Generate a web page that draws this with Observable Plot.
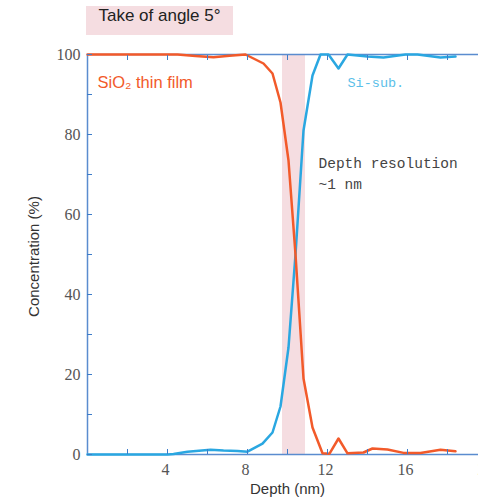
<!DOCTYPE html>
<html><head><meta charset="utf-8">
<script src="https://cdn.jsdelivr.net/npm/d3@7"></script>
<script src="https://cdn.jsdelivr.net/npm/@observablehq/plot@0.6"></script>
<style>
body{margin:0;width:478px;height:500px;overflow:hidden;background:#fff;}
#title{height:40px;position:relative;}
#title span{position:absolute;left:86px;top:6px;width:147px;height:29px;line-height:29px;background:#f5dde1;color:#222;font:17px "Liberation Sans",Arial,sans-serif;text-align:center;}
#chart{width:490px;}
#chart svg{display:block;max-width:none !important;width:490px;height:460px;}
</style></head>
<body>
<div id="title"><span>Take of angle 5°</span></div>
<div id="chart"></div>
<script>
const sio2Depth = [0, 1, 2, 3, 4, 4.5, 5.4, 6.3, 7.1, 7.9, 8.8, 9.25, 9.65, 10.05, 10.4, 10.8, 11.25, 11.75, 12.1, 12.55, 13, 13.8, 14.25, 15, 15.8, 16.65, 17.65, 18.4];
const sio2Conc  = [100, 100, 100, 100, 100, 100, 99.6, 99.3, 99.7, 100, 97.75, 95.25, 88, 73.5, 50, 19, 6.75, 0.3, 0.2, 4, 0.3, 0.5, 1.5, 1.25, 0.4, 0.4, 1.2, 0.8];
const siDepth = [0, 1, 2, 3, 4, 4.3, 5, 6.15, 6.8, 7.5, 8, 8.75, 9.25, 9.65, 10.05, 10.4, 10.8, 11.25, 11.65, 12.05, 12.55, 13, 14, 14.8, 15.9, 16.5, 17.65, 18.4];
const siConc  = [0, 0, 0, 0, 0, 0.1, 0.7, 1.2, 1, 0.9, 0.7, 2.7, 5.5, 12, 26.75, 50, 81, 94.75, 100, 100, 96.5, 100, 99.5, 99.25, 100, 100, 99.25, 99.5];
const bandStart = [9.75];
const bandEnd = [10.9];
const xTickMinor = [2, 4, 6, 8, 10, 12, 14, 16, 18, 20];
const xTickLabels = [4, 8, 12, 16, 20];
const yTickMinor = [0, 10, 20, 30, 40, 50, 60, 70, 80, 90, 100];
const yTickLabels = [0, 20, 40, 60, 80, 100];

const sio2 = sio2Depth.map((d, i) => ({depth: d, conc: sio2Conc[i]}));
const si = siDepth.map((d, i) => ({depth: d, conc: siConc[i]}));
const band = bandStart.map((s, i) => ({x1: s, x2: bandEnd[i]}));

const axisBlue = "#3d7cc9";
const tickFont = '"Liberation Serif","Times New Roman",serif';
const sans = '"Liberation Sans",Arial,sans-serif';
const mono = '"Liberation Mono","DejaVu Sans Mono",monospace';

const chart = Plot.plot({
  width: 490, height: 460,
  marginLeft: 87, marginRight: 3, marginTop: 14, marginBottom: 46,
  x: {domain: [0, 20]},
  y: {domain: [0, 100]},
  style: {fontFamily: tickFont, fontSize: "16px", color: "#555", background: "transparent", maxWidth: "none"},
  marks: [
    Plot.rect(band, {x1: "x1", x2: "x2", y1: 0, y2: 100, fill: "#f5dde1"}),
    Plot.frame({stroke: "#5a8ccf", strokeWidth: 1.5}),
    Plot.line(si, {x: "depth", y: "conc", stroke: "#2aa7e1", strokeWidth: 2.5}),
    Plot.line(sio2, {x: "depth", y: "conc", stroke: "#f25a2a", strokeWidth: 2.5}),
    Plot.axisX({ticks: xTickMinor, tickSize: -5, tickFormat: () => "", stroke: axisBlue, label: null}),
    Plot.axisX({anchor: "top", ticks: xTickMinor, tickSize: -5, tickFormat: () => "", stroke: axisBlue, label: null}),
    Plot.axisX({ticks: xTickLabels, tickSize: 0, tickPadding: 9, dx: -2, fill: "#555", label: null}),
    Plot.axisY({ticks: yTickMinor, tickSize: -5, tickFormat: () => "", stroke: axisBlue, label: null}),
    Plot.axisY({ticks: yTickLabels, tickSize: 0, tickPadding: 7, fill: "#555", label: null}),
    Plot.text(["Depth (nm)"], {frameAnchor: "bottom", dy: 39, text: d => d, fontFamily: sans, fontSize: 15, fill: "#333"}),
    Plot.text(["Concentration (%)"], {frameAnchor: "left", textAnchor: "middle", dx: -53, dy: 2, rotate: -90, text: d => d, fontFamily: sans, fontSize: 15, fill: "#333"}),
    Plot.text(["SiO₂ thin film"], {x: 0.5, y: 93, text: d => d, textAnchor: "start", fontFamily: sans, fontSize: 16.5, fill: "#f25a2a"}),
    Plot.text(["Si-sub."], {x: 13, y: 93, text: d => d, textAnchor: "start", fontFamily: mono, fontSize: 13.5, fill: "#5bbfe9"}),
    Plot.text(["Depth resolution\n~1 nm"], {x: 11.55, y: 70.75, text: d => d, textAnchor: "start", lineAnchor: "middle", lineHeight: 1.5, fontFamily: mono, fontSize: 14.5, fill: "#444"})
  ]
});
document.getElementById("chart").appendChild(chart);
</script>
</body></html>
